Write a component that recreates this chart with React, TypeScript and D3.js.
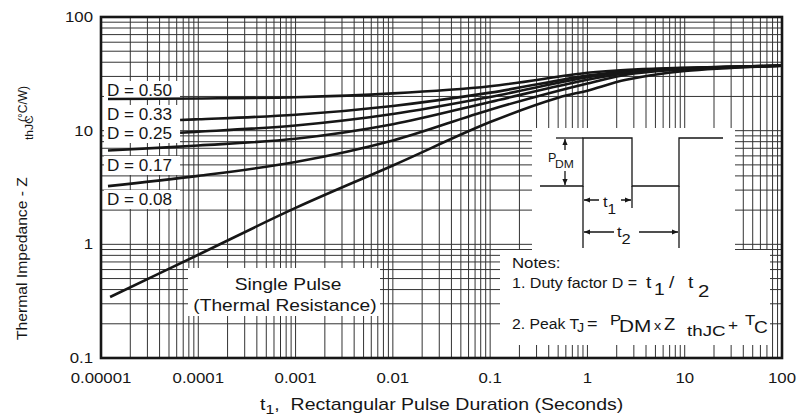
import * as d3 from "d3";

// thermal impedance curves
const xTickValues = [1e-5, 1e-4, 1e-3, 1e-2, 0.1, 1, 10, 100];
const xTickLabels = ["0.00001", "0.0001", "0.001", "0.01", "0.1", "1", "10", "100"];
const yTickValues = [0.1, 1, 10, 100];
const yTickLabels = ["0.1", "1", "10", "100"];

const singleT = [1.24e-5, 1e-4, 1e-3, 1e-2, 0.1, 0.5, 1, 2.5, 10, 100];
const singleZ = [0.344, 0.81, 2.09, 4.94, 11.9, 19.5, 22.5, 28, 33.5, 37.3];

const dutyLabels = ["D = 0.50", "D = 0.33", "D = 0.25", "D = 0.17", "D = 0.08"];
const dutyStartT = [1.18e-5, 6.5e-5, 6.5e-5, 1.18e-5, 1.18e-5];
const dutyT = [1e-4, 1e-3, 1e-2, 0.1, 1, 3, 10, 100];
const d50 = [19.0, 19.2, 19.7, 21.3, 24.6, 32.3, 34.5, 35.8, 37.3];
const d33 = [12.4, 12.6, 13.8, 16.5, 21.6, 30.5, 33.8, 35.5, 37.3];
const d25 = [9.6, 9.8, 11.1, 14.0, 19.8, 29.5, 33.3, 35.2, 37.3];
const d17 = [6.7, 7.4, 8.5, 11.4, 17.9, 28, 32.6, 35, 37.3];
const d08 = [3.25, 4.0, 5.3, 8.2, 15.3, 26, 31.8, 34.6, 37.3];
const dutyZ = [d50, d33, d25, d17, d08];
const labelBaselines = [96, 120, 139, 171, 205];

const W = 798;
const H = 418;
const FONT = "'Liberation Sans', Arial, Helvetica, sans-serif";
const INK = "#161616";

function Txt(props: {
  x: number; y: number; size: number; sx?: number; anchor?: string; children?: any; rotate?: number;
}) {
  const { x, y, size, sx = 1.1, anchor = "start", children, rotate = 0 } = props;
  return (
    <text
      transform={`translate(${x},${y}) rotate(${rotate}) scale(${sx},1)`}
      fontSize={size}
      textAnchor={anchor}
      fill={INK}
      fontFamily={FONT}
    >
      {children}
    </text>
  );
}

function Arrow({ x, y, dir }: { x: number; y: number; dir: "up" | "down" | "left" | "right" }) {
  const s = 6, w = 2.6;
  let pts = "";
  if (dir === "up") pts = `${x},${y} ${x - w},${y + s} ${x + w},${y + s}`;
  if (dir === "down") pts = `${x},${y} ${x - w},${y - s} ${x + w},${y - s}`;
  if (dir === "left") pts = `${x},${y} ${x + s},${y - w} ${x + s},${y + w}`;
  if (dir === "right") pts = `${x},${y} ${x - s},${y - w} ${x - s},${y + w}`;
  return <polygon points={pts} fill={INK} />;
}

export default function App() {
  const x = d3.scaleLog().domain([1e-5, 100]).range([101, 782]);
  const y = d3.scaleLog().domain([0.1, 100]).range([358, 17]);
  const [x0, x1] = x.range();
  const [y0, y1] = y.range();

  const line = d3
    .line<[number, number]>()
    .x((d) => x(d[0]))
    .y((d) => y(d[1]))
    .curve(d3.curveCatmullRom.alpha(0.5));

  const singlePts = singleT.map((t, i) => [t, singleZ[i]] as [number, number]);
  const dutyPts = dutyZ.map((zs, k) =>
    [dutyStartT[k], ...dutyT].map((t, i) => [t, zs[i]] as [number, number])
  );

  const xGrid = x.ticks();
  const yGrid = y.ticks();

  // white panels that blank out the grid behind the annotations
  const panels = [
    { x: 188, y: 268, w: 192, h: 48 },
    { x: 532, y: 128, w: 203, h: 122 },
    { x: 500, y: 250, w: 270, h: 95 },
  ];

  return (
    <svg
      width={W}
      height={H}
      viewBox={`0 0 ${W} ${H}`}
      style={{ position: "absolute", left: 0, top: 0, background: "#fff" }}
    >
      <rect width={W} height={H} fill="#fff" />

      {/* grid */}
      <g stroke="#333" strokeWidth={1}>
        {xGrid.map((t, i) => (
          <line key={"vx" + i} x1={x(t)} x2={x(t)} y1={y1} y2={y0} />
        ))}
        {yGrid.map((v, i) => (
          <line key={"hy" + i} x1={x0} x2={x1} y1={y(v)} y2={y(v)} />
        ))}
      </g>

      {panels.map((p, i) => (
        <rect key={"p" + i} x={p.x} y={p.y} width={p.w} height={p.h} fill="#fff" />
      ))}
      {labelBaselines.map((b, i) => (
        <rect key={"lb" + i} x={104} y={b - 15} width={76} height={19} fill="#fff" />
      ))}

      {/* curves */}
      <g fill="none" stroke={INK} strokeWidth={2.6} strokeLinejoin="round">
        {dutyPts.map((pts, i) => (
          <path key={"d" + i} d={line(pts) ?? ""} />
        ))}
        <path d={line(singlePts) ?? ""} />
      </g>

      {/* frame */}
      <rect x={x0} y={y1} width={x1 - x0} height={y0 - y1} fill="none" stroke={INK} strokeWidth={2.6} />

      {/* duty labels */}
      {dutyLabels.map((s, i) => (
        <Txt key={"dl" + i} x={107} y={labelBaselines[i]} size={16} sx={1.07}>
          {s}
        </Txt>
      ))}

      <Txt x={288} y={290} size={16} sx={1.2} anchor="middle">Single Pulse</Txt>
      <Txt x={285} y={311} size={16} sx={1.2} anchor="middle">(Thermal Resistance)</Txt>

      {/* pulse diagram */}
      <g fill="none" stroke={INK} strokeWidth={1.3}>
        <path d="M540,186 H583 V138 H632 V186 H679 V138 H723" />
        <path d="M556,138 H583" />
        <path d="M565,139 V150 M565,171 V185" />
        <path d="M583,186 V248 M632,186 V208 M679,186 V248" />
        <path d="M584,200 H599 M621,200 H631" />
        <path d="M584,232 H614 M639,232 H678" />
      </g>
      <Arrow x={565} y={139} dir="up" />
      <Arrow x={565} y={185} dir="down" />
      <Arrow x={584} y={200} dir="left" />
      <Arrow x={631} y={200} dir="right" />
      <Arrow x={584} y={232} dir="left" />
      <Arrow x={678} y={232} dir="right" />
      <Txt x={548} y={162} size={12} sx={1.05}>P</Txt>
      <Txt x={555} y={168} size={11} sx={1.1}>DM</Txt>
      <Txt x={603} y={207} size={15} sx={1.1}>
        t<tspan fontSize={14} dy={7}>1</tspan>
      </Txt>
      <Txt x={617} y={237} size={15} sx={1.1}>
        t<tspan fontSize={15} dy={7}>2</tspan>
      </Txt>

      {/* notes */}
      <Txt x={512} y={268} size={15} sx={1.12}>Notes:</Txt>
      <Txt x={512} y={288} size={15} sx={1.07}>1. Duty factor D =</Txt>
      <Txt x={646} y={288} size={16} sx={1.2}>t</Txt>
      <Txt x={654} y={295} size={16} sx={1.2}>1</Txt>
      <Txt x={669} y={288} size={16} sx={1.2}>/</Txt>
      <Txt x={688} y={288} size={16} sx={1.2}>t</Txt>
      <Txt x={698} y={297} size={17} sx={1.2}>2</Txt>

      <Txt x={512} y={329} size={15} sx={1.05}>2. Peak T</Txt>
      <Txt x={577} y={332} size={13} sx={1.1}>J</Txt>
      <Txt x={587} y={329} size={15} sx={1.2}>=</Txt>
      <Txt x={610} y={325} size={14} sx={1.2}>P</Txt>
      <Txt x={619} y={332} size={16} sx={1.3}>DM</Txt>
      <Txt x={654} y={330} size={12} sx={1.2}>x</Txt>
      <Txt x={664} y={330} size={16} sx={1.15}>Z</Txt>
      <Txt x={687} y={336} size={15} sx={1.25}>thJC</Txt>
      <Txt x={728} y={330} size={15} sx={1.15}>+</Txt>
      <Txt x={745} y={325} size={14} sx={1.2}>T</Txt>
      <Txt x={754} y={333} size={16} sx={1.2}>C</Txt>

      {/* axis tick labels */}
      {xTickValues.map((t, i) => (
        <Txt key={"xt" + i} x={x(t)} y={383} size={14} sx={1.2} anchor="middle">
          {xTickLabels[i]}
        </Txt>
      ))}
      {yTickValues.map((v, i) => (
        <Txt key={"yt" + i} x={93} y={y(v) + 5} size={14} sx={1.2} anchor="end">
          {yTickLabels[i]}
        </Txt>
      ))}

      {/* axis titles */}
      <Txt x={260} y={410} size={16} sx={1.22}>
        t<tspan fontSize={13} dy={4}>1</tspan>
        <tspan dy={-4}>,{"\u00a0\u00a0"}Rectangular Pulse Duration (Seconds)</tspan>
      </Txt>
      <Txt x={27} y={340} size={14} sx={1.12} rotate={-90}>Thermal Impedance - Z</Txt>
      <Txt x={33} y={140} size={11} sx={1.1} rotate={-90}>thJC</Txt>
      <Txt x={27} y={122} size={12} sx={1.0} rotate={-90}>(°C/W)</Txt>
    </svg>
  );
}
